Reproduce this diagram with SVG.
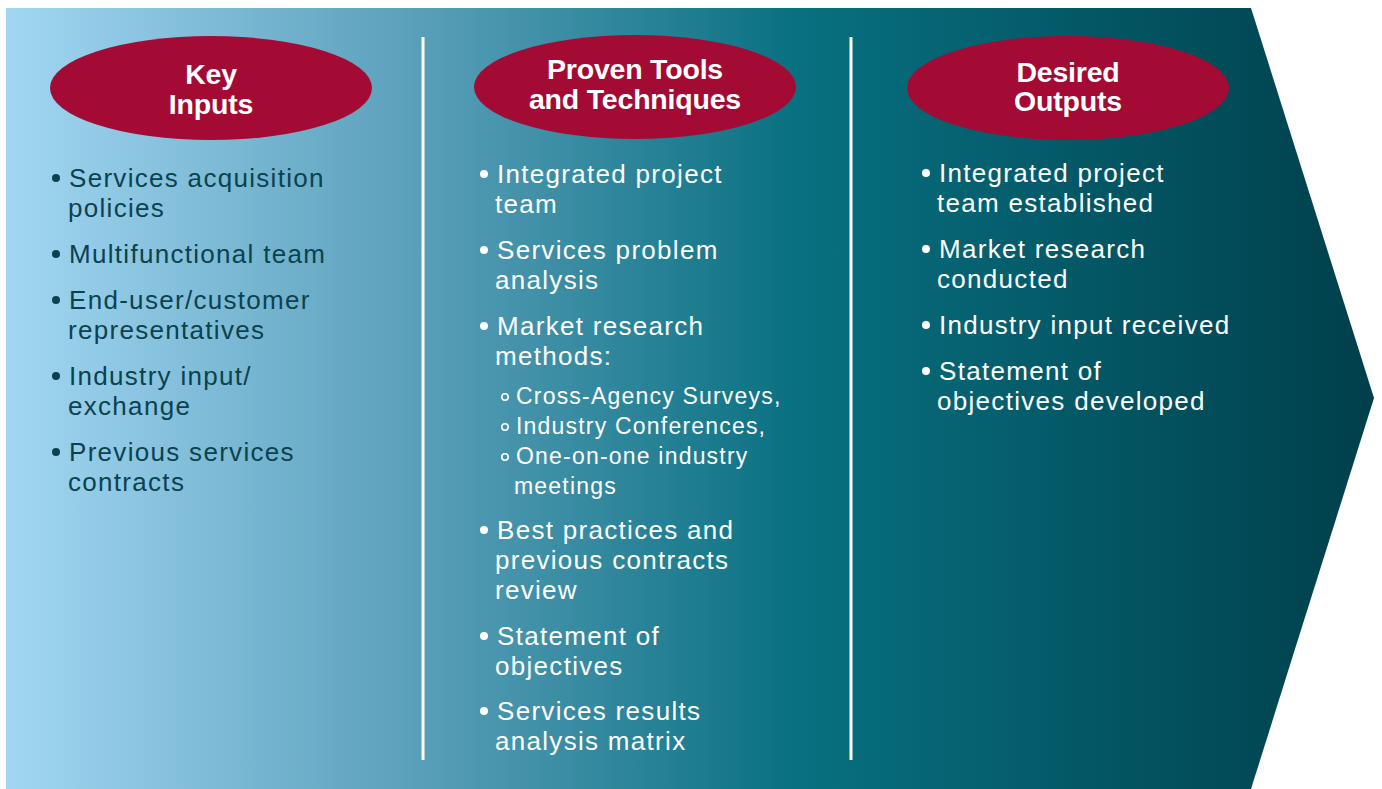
<svg xmlns="http://www.w3.org/2000/svg" width="1382" height="789" viewBox="0 0 1382 789">
<defs>
<linearGradient id="bg" gradientUnits="userSpaceOnUse" x1="6" y1="0" x2="1374" y2="0">
<stop offset="0" stop-color="#a2d7f3"/>
<stop offset="0.3" stop-color="#5a9fba"/>
<stop offset="0.58" stop-color="#087080"/>
<stop offset="1" stop-color="#003f4b"/>
</linearGradient>
<style>
.title{font-family:"Liberation Sans",Arial,sans-serif;font-weight:bold;font-size:28.5px;fill:#fff;text-anchor:middle;letter-spacing:-0.2px}
.item{font-family:"Liberation Sans",Arial,sans-serif;font-size:26px;letter-spacing:1.3px}
.sub{font-family:"Liberation Sans",Arial,sans-serif;font-size:23px;letter-spacing:1.2px}
.dark{fill:#0b4250}
.light{fill:#ffffff}
.oval{fill:#a30b35}
.div{stroke:#ffffff;stroke-width:3}
.ob{fill:none;stroke:#ffffff;stroke-width:1.6}
</style>
</defs>
<polygon id="arrow" points="6,8 1251,8 1374,398 1251,789 6,789" fill="url(#bg)"/>
<g id="dividers">
<line class="div" x1="423" y1="37" x2="423" y2="760"/>
<line class="div" x1="851" y1="37" x2="851" y2="760"/>
</g>
<g id="key-inputs">
<ellipse class="oval" cx="211" cy="88" rx="161" ry="52"/>
<text class="title" x="211" y="84">Key</text>
<text class="title" x="211" y="114">Inputs</text>
<g class="dark">
<circle cx="56" cy="178" r="4"/>
<circle cx="56" cy="254" r="4"/>
<circle cx="56" cy="300" r="4"/>
<circle cx="56" cy="376" r="4"/>
<circle cx="56" cy="452" r="4"/>
</g>
<g class="item dark">
<text x="69" y="187">Services acquisition</text>
<text x="68" y="217">policies</text>
<text x="69" y="263">Multifunctional team</text>
<text x="69" y="309">End-user/customer</text>
<text x="68" y="339">representatives</text>
<text x="69" y="385">Industry input/</text>
<text x="68" y="415">exchange</text>
<text x="69" y="461">Previous services</text>
<text x="68" y="491">contracts</text>
</g>
</g>
<g id="proven-tools">
<ellipse class="oval" cx="635" cy="87" rx="161" ry="52"/>
<text class="title" x="635" y="79">Proven Tools</text>
<text class="title" x="635" y="109">and Techniques</text>
<g class="light">
<circle cx="484" cy="174" r="4"/>
<circle cx="484" cy="250" r="4"/>
<circle cx="484" cy="326" r="4"/>
<circle cx="484" cy="530" r="4"/>
<circle cx="484" cy="636" r="4"/>
<circle cx="484" cy="711" r="4"/>
</g>
<circle class="ob" cx="505" cy="397" r="3.2"/>
<circle class="ob" cx="505" cy="427" r="3.2"/>
<circle class="ob" cx="505" cy="457" r="3.2"/>
<g class="item light">
<text x="497" y="183">Integrated project</text>
<text x="495" y="213">team</text>
<text x="497" y="259">Services problem</text>
<text x="495" y="289">analysis</text>
<text x="497" y="335">Market research</text>
<text x="495" y="365">methods:</text>
<text x="497" y="539">Best practices and</text>
<text x="495" y="569">previous contracts</text>
<text x="495" y="599">review</text>
<text x="497" y="645">Statement of</text>
<text x="495" y="675">objectives</text>
<text x="497" y="720">Services results</text>
<text x="495" y="750">analysis matrix</text>
</g>
<g class="sub light">
<text x="516" y="404">Cross-Agency Surveys,</text>
<text x="516" y="434">Industry Conferences,</text>
<text x="516" y="464">One-on-one industry</text>
<text x="514" y="494">meetings</text>
</g>
</g>
<g id="desired-outputs">
<ellipse class="oval" cx="1068" cy="88" rx="161" ry="52"/>
<text class="title" x="1068" y="82">Desired</text>
<text class="title" x="1068" y="111">Outputs</text>
<g class="light">
<circle cx="926" cy="173" r="4"/>
<circle cx="926" cy="249" r="4"/>
<circle cx="926" cy="325" r="4"/>
<circle cx="926" cy="371" r="4"/>
</g>
<g class="item light">
<text x="939" y="182">Integrated project</text>
<text x="937" y="212">team established</text>
<text x="939" y="258">Market research</text>
<text x="937" y="288">conducted</text>
<text x="939" y="334">Industry input received</text>
<text x="939" y="380">Statement of</text>
<text x="937" y="410">objectives developed</text>
</g>
</g>
</svg>
